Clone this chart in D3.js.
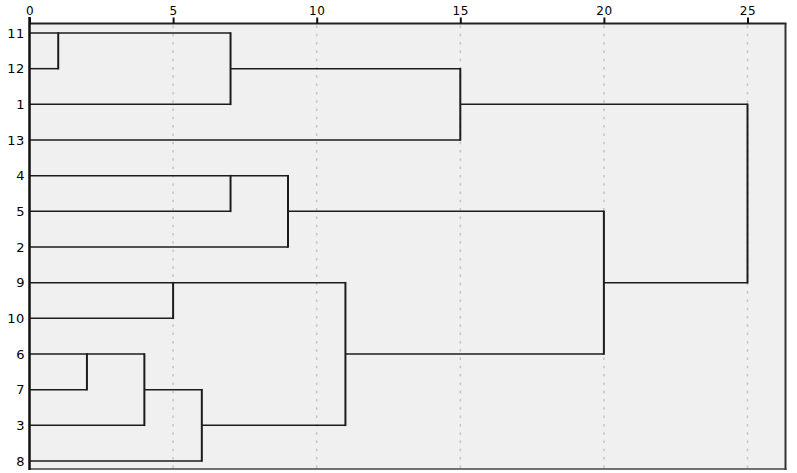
<!DOCTYPE html>
<html><head><meta charset="utf-8">
<script src="https://cdn.jsdelivr.net/npm/d3@7"></script>
<style>html,body{margin:0;padding:0;background:#fff;}svg{display:block;}</style>
</head><body>
<svg id="chart" width="797" height="473"></svg>
<script>
// Leaf order (top to bottom)
const leaves = ["11","12","1","13","4","5","2","9","10","6","7","3","8"];
// Agglomeration steps: [child A, child B, rescaled distance]; "cN" refers to the N-th merge (1-based)
const merges = [
  ["11","12",1],
  ["6","7",2],
  ["c2","3",4],
  ["9","10",5],
  ["c3","8",6],
  ["c1","1",7],
  ["4","5",7],
  ["c7","2",9],
  ["c4","c5",11],
  ["c6","13",15],
  ["c8","c9",20],
  ["c10","c11",25]
];
const tickValues = [0,5,10,15,20,25];
const gridValues = [5,10,15,20,25];

(function(){
const svg = d3.select("#chart");
const pL = 29.5, pT = 23.5, pR = 785.5, pB = 469;
const x = d3.scaleLinear().domain([0,25]).range([29.5,747.5]);
const y = d3.scalePoint().domain(leaves).range([33,461]);

// build hierarchy
const nodes = {};
leaves.forEach(l => nodes[l] = {name:l, h:0});
merges.forEach((m,i) => {
  nodes["c"+(i+1)] = {name:"c"+(i+1), h:m[2], children:[nodes[m[0]], nodes[m[1]]]};
});
const root = d3.hierarchy(nodes["c"+merges.length]);
root.eachAfter(d => {
  if (!d.children) d.row = leaves.indexOf(d.data.name);
  else d.row = Math.floor((d.children[0].row + d.children[1].row)/2);
});
const yr = r => y(leaves[0]) + r*y.step();

// background
svg.append("rect").attr("x",pL).attr("y",pT).attr("width",pR-pL).attr("height",pB-pT).attr("fill","#f0f0f0");

// grid
svg.selectAll("line.grid").data(gridValues).join("line").attr("class","grid")
  .attr("x1",d=>x(d)).attr("x2",d=>x(d)).attr("y1",pT+2).attr("y2",pB)
  .attr("stroke","#c4c4c4").attr("stroke-width",1.5).attr("stroke-dasharray","2.5,5.8");

// dendrogram lines
const g = svg.append("g").attr("stroke","#1c1c1c").attr("fill","none");
root.descendants().forEach(d => {
  if (d.parent) {
    g.append("line").attr("x1",x(d.data.h)).attr("x2",x(d.parent.data.h))
      .attr("y1",yr(d.row)).attr("y2",yr(d.row)).attr("stroke-width",1.5);
  }
  if (d.children) {
    g.append("line").attr("x1",x(d.data.h)).attr("x2",x(d.data.h))
      .attr("y1",yr(d.children[0].row)-0.75).attr("y2",yr(d.children[1].row)+0.75).attr("stroke-width",2);
  }
});

// frame
svg.append("line").attr("x1",pL).attr("x2",pR+1).attr("y1",pT).attr("y2",pT).attr("stroke","#222").attr("stroke-width",2);
svg.append("line").attr("x1",pR).attr("x2",pR).attr("y1",pT).attr("y2",pB+1).attr("stroke","#333").attr("stroke-width",2);
svg.append("line").attr("x1",pL).attr("x2",pR+1).attr("y1",pB).attr("y2",pB).attr("stroke","#444").attr("stroke-width",1.5);
svg.append("line").attr("x1",pL).attr("x2",pL).attr("y1",17).attr("y2",pB+1).attr("stroke","#111").attr("stroke-width",2.5);

// top axis
const axis = d3.axisTop(x).tickValues(tickValues).tickSize(6).tickPadding(3);
const ag = svg.append("g").attr("transform",`translate(0,${pT})`).call(axis);
ag.select(".domain").remove();
ag.selectAll(".tick line").attr("stroke","#111").attr("stroke-width",2);
ag.selectAll("text").attr("font-family","DejaVu Sans, Verdana, sans-serif").attr("font-size","12px")
  .attr("letter-spacing","0.6px").attr("fill","#000");

// leaf labels
svg.selectAll("text.leaf").data(leaves).join("text").attr("class","leaf")
  .attr("x",25).attr("y",d=>y(d)).attr("dy","0.36em").attr("text-anchor","end")
  .attr("font-family","DejaVu Sans, Verdana, sans-serif").attr("font-size","13px")
  .attr("letter-spacing","0.6px").attr("fill","#000")
  .text(d=>d);
})();
</script>
</body></html>
